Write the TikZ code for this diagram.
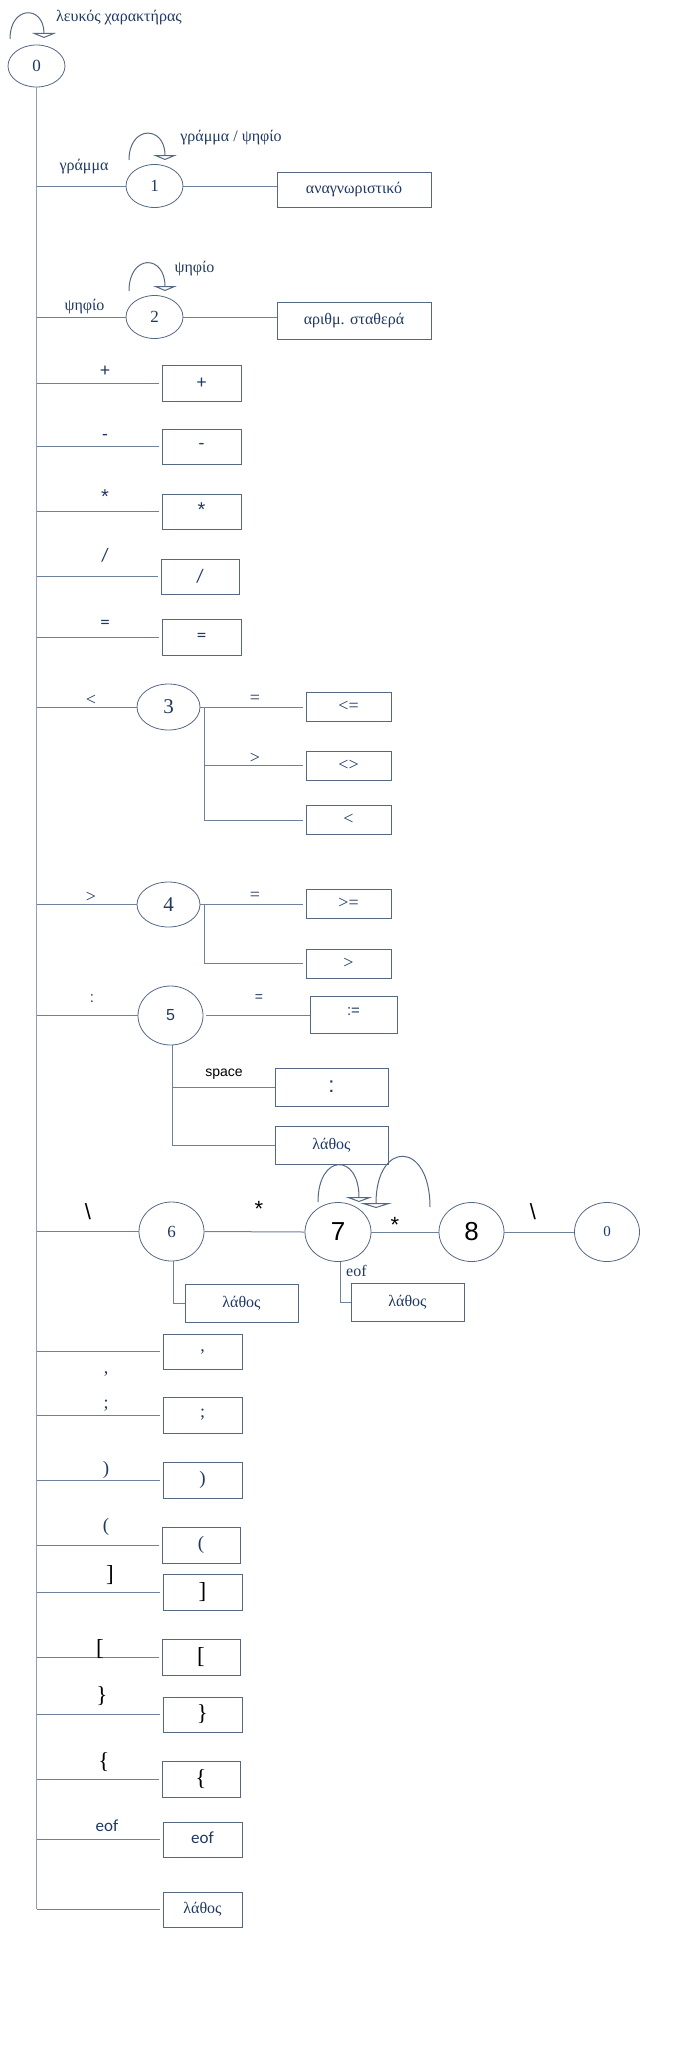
\documentclass[tikz,border=0pt]{standalone}
\usepackage{fontspec}
\setmainfont{Liberation Serif}
\newfontfamily\lsans{Liberation Sans}
\newfontfamily\carl{Carlito}
\usetikzlibrary{shapes.geometric,arrows.meta}
\definecolor{txt}{RGB}{31,56,100}
\definecolor{bord}{RGB}{84,104,132}
\definecolor{linec}{RGB}{110,128,154}
\definecolor{vlinec}{RGB}{140,157,180}
\newcommand\fsz[1]{\fontsize{#1}{#1}\selectfont}
\begin{document}
\begin{tikzpicture}[x=1pt,y=-1pt,
  st/.style 2 args={ellipse, draw=bord, line width=0.8pt, minimum width=#1, minimum height=#2, inner sep=0pt, text=txt},
  bx/.style 2 args={rectangle, draw=bord, line width=1pt, minimum width=#1, minimum height=#2, inner sep=0pt, text=txt},
  lb/.style={inner sep=0pt, text=txt},
  ln/.style={draw=linec, line width=1pt},
  vln/.style={draw=vlinec, line width=1.2pt},
  selfarc/.style={draw=bord, line width=1pt, -{Triangle[open,width=#1,length=5pt]}},
  selfarc/.default=24pt,
  gr/.style={font=\fsz{16}},
  cmp/.style={font=\fsz{18}},
  op/.style={font=\carl\fsz{19}},
  ast/.style={font=\lsans\fsz{20}},
  br/.style={font=\fsz{23}, text=black}
]
\useasboundingbox (0,0) rectangle (675,2050);

% state 0 and main spine
\node[st={57pt}{42pt}, font=\fsz{17}] (s0) at (36.5,66) {0};
\coordinate (vbot) at (36.5,1909);
\draw[vln] (s0.south) -- (s0.south |- vbot);
\coordinate (l0a) at (10,39); \coordinate (l0b) at (44,38);
\draw[selfarc] (l0a) .. controls (10,5) and (44,5) .. (l0b);
\node[lb, gr, anchor=west] (l0t) at (56,18) {λευκός χαρακτήρας};

% state 1
\node[st={57pt}{43pt}, font=\fsz{17}] (s1) at (154.5,186) {1};
\draw[ln] (s1.west -| vbot) -- (s1.west);
\node[lb, gr] (t1) at (84,167) {γράμμα};
\coordinate (l1a) at (129,160); \coordinate (l1b) at (165,160);
\draw[selfarc] (l1a) .. controls (129,125) and (165,125) .. (l1b);
\node[lb, gr] (l1t) at (231,138) {γράμμα / ψηφίο};
\node[bx={154pt}{35pt}, gr] (b1) at (354,189.5) {αναγνωριστικό};
\draw[ln] (s1.east) -- (s1.east -| b1.west);

% state 2
\node[st={57pt}{43pt}, font=\fsz{17}] (s2) at (154.5,317) {2};
\draw[ln] (s2.west -| vbot) -- (s2.west);
\node[lb, gr] (t2) at (84.5,307) {ψηφίο};
\coordinate (l2a) at (129,291); \coordinate (l2b) at (165,291);
\draw[selfarc] (l2a) .. controls (129,254) and (165,254) .. (l2b);
\node[lb, gr] (l2t) at (194.5,269) {ψηφίο};
\node[bx={154pt}{37pt}, gr] (b2) at (354,320.5) {αριθμ. σταθερά};
\draw[ln] (s2.east) -- (s2.east -| b2.west);

% single operators
\node[bx={79pt}{36pt}, op] (bp) at (201.5,383) {+};
\draw[ln] (bp.west -| vbot) -- ([xshift=-3pt]bp.west);
\node[lb, op] (tp) at (105,371) {+};
\node[bx={79pt}{35pt}, op] (bm) at (201.5,446.5) {-};
\draw[ln] (bm.west -| vbot) -- ([xshift=-3pt]bm.west);
\node[lb, op] (tm) at (105,437) {-};
\node[bx={79pt}{35pt}, ast] (bs) at (201.5,511.5) {\raisebox{3pt}{*}};
\draw[ln] (bs.west -| vbot) -- ([xshift=-3pt]bs.west);
\node[lb, ast] (ts) at (105,497) {*};
\node[bx={78pt}{35pt}, op] (bd) at (200,576.5) {/};
\draw[ln] (bd.west -| vbot) -- ([xshift=-3pt]bd.west);
\node[lb, op] (td) at (105,555) {/};
\node[bx={79pt}{36pt}, op] (be) at (201.5,637) {=};
\draw[ln] (be.west -| vbot) -- ([xshift=-3pt]be.west);
\node[lb, op] (te) at (105,624) {=};

% state 3
\node[st={63pt}{46pt}, font=\fsz{21}] (s3) at (168.5,707) {3};
\draw[ln] (s3.west -| vbot) -- (s3.west);
\node[lb, cmp] (t3) at (91,700) {<};
\node[bx={85pt}{29pt}, cmp] (b31) at (348.5,706.5) {<=};
\node[bx={85pt}{29pt}, cmp] (b32) at (348.5,765.5) {<>};
\node[bx={85pt}{29pt}, cmp] (b33) at (348.5,819.5) {<};
\coordinate (j3) at (204,707); \coordinate (j3b) at (204,820);
\draw[ln] (s3.east) -- ([xshift=-3pt]s3.east -| b31.west);
\draw[ln] (j3) -- (j3b) -- ([xshift=-3pt]j3b -| b33.west);
\draw[ln] (j3 |- b32.west) -- ([xshift=-3pt]b32.west);
\node[lb, cmp] (t31) at (255,699) {=};
\node[lb, cmp] (t32) at (255,758) {>};

% state 4
\node[st={63pt}{45pt}, font=\fsz{21}] (s4) at (168.5,904.5) {4};
\draw[ln] (s4.west -| vbot) -- (s4.west);
\node[lb, cmp] (t4) at (91,897) {>};
\node[bx={85pt}{29pt}, cmp] (b41) at (348.5,903.5) {>=};
\node[bx={85pt}{29pt}, cmp] (b42) at (348.5,963.5) {>};
\coordinate (j4) at (204,904.5); \coordinate (j4b) at (204,963.5);
\draw[ln] (s4.east) -- ([xshift=-3pt]s4.east -| b41.west);
\draw[ln] (j4) -- (j4b) -- ([xshift=-3pt]b42.west);
\node[lb, cmp] (t41) at (255,896) {=};

% state 5
\node[st={65pt}{59pt}, font=\lsans\fsz{16}] (s5) at (170.5,1015.5) {5};
\draw[ln] (s5.west -| vbot) -- (s5.west);
\node[lb, font=\lsans\fsz{15}] (t5) at (92,999) {:};
\node[bx={87pt}{37pt}, font=\lsans\fsz{15}] (b51) at (353.5,1014.5) {\raisebox{5pt}{:=}};
\draw[ln] ([xshift=3pt]s5.east) -- (s5.east -| b51.west);
\node[lb, font=\lsans\fsz{14}] (t51) at (259,998) {=};
\node[bx={113pt}{38pt}, font=\lsans\fsz{22}] (b52) at (331.5,1087) {:};
\node[bx={113pt}{38pt}, gr] (b53) at (331.5,1145) {\raisebox{3pt}{λάθος}};
\coordinate (j5b) at (172,1145);
\draw[ln] ([xshift=1.5pt]s5.south) -- (j5b) -- (b53.west);
\draw[ln] (j5b |- b52.west) -- (b52.west);
\node[lb, font=\lsans\fsz{14}, text=black] (t52) at (224,1074) {space};

% comment path 6 - 7 - 8 - 0
\node[st={65pt}{59pt}, font=\fsz{17}] (s6) at (171.5,1231.5) {6};
\draw[ln] (s6.west -| vbot) -- (s6.west);
\node[lb, font=\lsans\fsz{22}, text=black] (t6) at (88,1212) {\textbackslash};
\node[st={66pt}{59pt}, font=\lsans\fsz{26}, text=black] (s7) at (338,1232) {7};
\draw[ln] (s6.east) -- (s7.west);
\node[lb, font=\lsans\fsz{22}, text=black] (t67) at (259,1209) {*};
\node[st={65pt}{59pt}, font=\lsans\fsz{26}, text=black] (s8) at (471.5,1232) {8};
\draw[ln] (s7.east) -- (s8.west);
\node[lb, font=\lsans\fsz{22}, text=black] (t78) at (395,1225) {*};
\node[st={65pt}{59pt}, font=\fsz{15}] (s9) at (607,1232) {0};
\draw[ln] (s8.east) -- (s9.west);
\node[lb, font=\lsans\fsz{22}, text=black] (t89) at (533,1212) {\textbackslash};
\coordinate (l7a) at (318,1202); \coordinate (l7b) at (359,1202);
\draw[selfarc=27pt] (l7a) .. controls (318,1153) and (359,1153) .. (l7b);
\coordinate (l8a) at (430,1207); \coordinate (l8b) at (376,1208);
\draw[selfarc=32pt] (l8a) .. controls (430,1140) and (376,1140) .. (l8b);
\node[bx={113pt}{38pt}, gr] (b6) at (241.5,1303) {\raisebox{3pt}{λάθος}};
\draw[ln] ([xshift=1.5pt]s6.south) -- ([xshift=1.5pt]s6.south |- b6.west) -- (b6.west);
\node[bx={113pt}{38pt}, gr] (b7) at (407.5,1302) {\raisebox{3pt}{λάθος}};
\draw[ln] ([xshift=2pt]s7.south) -- ([xshift=2pt]s7.south |- b7.west) -- (b7.west);
\node[lb, gr, anchor=west] (t7) at (346,1271) {eof};

% punctuation
\node[bx={79pt}{35pt}, font=\fsz{18}] (bc) at (202.5,1351.5) {,};
\draw[ln] (bc.west -| vbot) -- ([xshift=-3pt]bc.west);
\node[lb, font=\fsz{18}] (tc) at (106,1374) {,};
\node[bx={79pt}{36pt}, font=\fsz{18}] (bsc) at (202.5,1415) {;};
\draw[ln] (bsc.west -| vbot) -- ([xshift=-3pt]bsc.west);
\node[lb, font=\fsz{18}] (tsc) at (106,1406) {;};
\node[bx={79pt}{36pt}, font=\fsz{19}] (brp) at (202.5,1480) {)};
\draw[ln] (brp.west -| vbot) -- ([xshift=-3pt]brp.west);
\node[lb, font=\fsz{19}] (trp) at (106,1470) {)};
\node[bx={78pt}{36pt}, font=\fsz{19}] (blp) at (201,1545) {(};
\draw[ln] (blp.west -| vbot) -- ([xshift=-3pt]blp.west);
\node[lb, font=\fsz{19}] (tlp) at (106,1527) {(};
\node[bx={79pt}{36pt}, br] (brb) at (202.5,1592) {]};
\draw[ln] (brb.west -| vbot) -- ([xshift=-3pt]brb.west);
\node[lb, br] (trb) at (110,1575) {]};
\node[bx={78pt}{36pt}, br] (blb) at (201,1657) {[};
\draw[ln] (blb.west -| vbot) -- ([xshift=-3pt]blb.west);
\node[lb, br] (tlb) at (100,1649) {[};
\node[bx={79pt}{35pt}, br] (brc) at (202.5,1714.5) {\}};
\draw[ln] (brc.west -| vbot) -- ([xshift=-3pt]brc.west);
\node[lb, br] (trc) at (102,1696) {\}};
\node[bx={78pt}{36pt}, br] (blc) at (201,1779) {\{};
\draw[ln] (blc.west -| vbot) -- ([xshift=-3pt]blc.west);
\node[lb, br] (tlc) at (104,1762) {\{};
\node[bx={79pt}{35pt}, font=\carl\fsz{17}] (beof) at (202.5,1839.5) {\raisebox{3pt}{eof}};
\draw[ln] (beof.west -| vbot) -- ([xshift=-3pt]beof.west);
\node[lb, font=\carl\fsz{17}] (teof) at (107,1826) {eof};
\node[bx={79pt}{35pt}, gr] (berr) at (202.5,1909.5) {\raisebox{3pt}{λάθος}};
\draw[ln] (vbot) -- ([xshift=-3pt]vbot -| berr.west);
\end{tikzpicture}
\end{document}
